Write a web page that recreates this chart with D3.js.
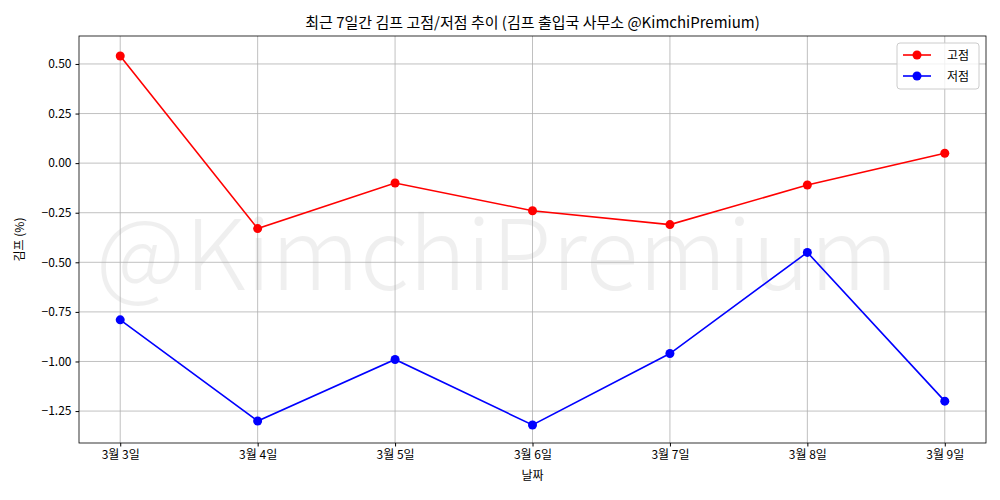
<!DOCTYPE html>
<html><head><meta charset="utf-8">
<script src="https://cdn.jsdelivr.net/npm/d3@7"></script>
<style>body{margin:0;background:#fff}text{font-family:"Noto Sans CJK KR","Noto Sans",sans-serif}</style>
</head><body><svg id="chart"></svg>
<script>
const dates = ["3월 3일","3월 4일","3월 5일","3월 6일","3월 7일","3월 8일","3월 9일"];
const highs = [0.54,-0.33,-0.10,-0.24,-0.31,-0.11,0.05];
const lows = [-0.79,-1.30,-0.99,-1.32,-0.96,-0.45,-1.20];
const yTicks = [0.5,0.25,0,-0.25,-0.5,-0.75,-1.0,-1.25];

const width = 1000, height = 500;
const margins = {left:79, right:14, top:36, bottom:57};
const svg = d3.select("svg#chart").attr("width", width).attr("height", height);

const x = d3.scalePoint().domain(dates)
  .range([margins.left, width - margins.right]).padding(0.30);
const y = d3.scaleLinear().domain([-1.411, 0.641])
  .range([height - margins.bottom, margins.top]);

// watermark
svg.append("text").attr("x", 497).attr("y", 290)
  .attr("text-anchor","middle").attr("font-size", 98).attr("font-weight",300).attr("fill","#000").attr("opacity",0.06)
  .text("@KimchiPremium");

// grid
const g = svg.append("g");
g.selectAll("line.gx").data(dates).join("line")
  .attr("x1", d=>x(d)).attr("x2", d=>x(d)).attr("y1", margins.top).attr("y2", height-margins.bottom)
  .attr("stroke","#b0b0b0").attr("stroke-width",0.8);
g.selectAll("line.gy").data(yTicks).join("line")
  .attr("y1", d=>y(d)).attr("y2", d=>y(d)).attr("x1", margins.left).attr("x2", width-margins.right)
  .attr("stroke","#b0b0b0").attr("stroke-width",0.8);

// axes
svg.append("g").attr("transform",`translate(0,${height-margins.bottom})`)
  .call(d3.axisBottom(x).tickSizeOuter(0).tickSize(3.5).tickPadding(4))
  .call(a=>a.select(".domain").remove())
  .selectAll("text").attr("font-size",12).attr("fill","#000");
svg.append("g").attr("transform",`translate(${margins.left},0)`)
  .call(d3.axisLeft(y).tickValues(yTicks).tickFormat(d3.format(".2f")).tickSize(3.5).tickPadding(4))
  .call(a=>a.select(".domain").remove())
  .selectAll("text").attr("font-size",12).attr("fill","#000");
svg.append("rect").attr("x",margins.left).attr("y",margins.top)
  .attr("width",width-margins.left-margins.right).attr("height",height-margins.top-margins.bottom)
  .attr("fill","none").attr("stroke","#000").attr("stroke-width",0.8);

// series
const line = d3.line().x((d,i)=>x(dates[i])).y(d=>y(d));
[[highs,"red"],[lows,"blue"]].forEach(([data,c])=>{
  svg.append("path").attr("d", line(data)).attr("fill","none").attr("stroke",c).attr("stroke-width",1.6);
  svg.append("g").selectAll("circle").data(data).join("circle")
    .attr("cx",(d,i)=>x(dates[i])).attr("cy",d=>y(d)).attr("r",4.5).attr("fill",c);
});

// labels
svg.append("text").attr("x",(margins.left+width-margins.right)/2).attr("y",28)
  .attr("text-anchor","middle").attr("font-size",15).text("최근 7일간 김프 고점/저점 추이 (김프 출입국 사무소 @KimchiPremium)");
svg.append("text").attr("x",(margins.left+width-margins.right)/2).attr("y",480)
  .attr("text-anchor","middle").attr("font-size",12).text("날짜");
svg.append("text").attr("transform",`translate(24,${(margins.top+height-margins.bottom)/2}) rotate(-90)`)
  .attr("text-anchor","middle").attr("font-size",12).text("김프 (%)");

// legend
const lg = svg.append("g").attr("transform","translate(897,43)");
lg.append("rect").attr("width",82).attr("height",46).attr("rx",3).attr("fill","#fff").attr("fill-opacity",0.8)
  .attr("stroke","#ccc");
[["고점","red"],["저점","blue"]].forEach(([t,c],i)=>{
  const yy = 12 + i*21;
  lg.append("line").attr("x1",6).attr("x2",34).attr("y1",yy).attr("y2",yy).attr("stroke",c).attr("stroke-width",1.6);
  lg.append("circle").attr("cx",20).attr("cy",yy).attr("r",4.5).attr("fill",c);
  lg.append("text").attr("x",50).attr("y",yy+4.5).attr("font-size",12).text(t);
});
</script></body></html>
